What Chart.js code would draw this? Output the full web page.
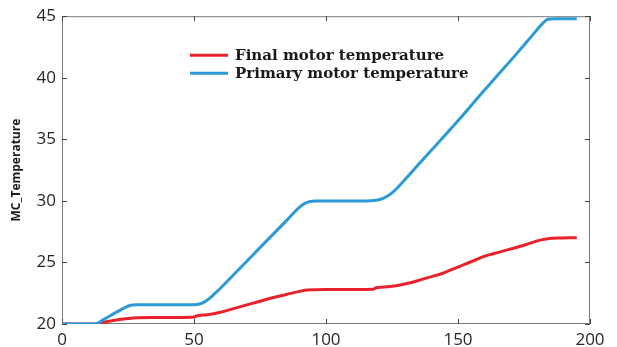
<!DOCTYPE html>
<html lang="en">
<head>
<meta charset="UTF-8" />
<title>MC Temperature</title>
<script src="https://cdn.jsdelivr.net/npm/chart.js"></script>
<style>
  html, body { margin: 0; padding: 0; background: #fff; }
  canvas { display: block; }
</style>
</head>
<body>
<canvas id="chart" width="617" height="347"></canvas>
<script>
  // sample times and temperatures of the two motors
  const finalTime = [0, 12.5, 15, 20, 25, 28, 35, 45, 50, 51, 52, 55, 60, 65, 70, 75, 80, 85, 90, 93, 100, 110, 118, 119, 122, 125, 128, 132, 136, 140, 144, 148, 152, 156, 160, 165, 170, 175, 180, 184, 188, 195];
  const finalTemp = [20, 20, 20.12, 20.3, 20.44, 20.5, 20.52, 20.53, 20.56, 20.66, 20.7, 20.75, 20.95, 21.25, 21.55, 21.85, 22.15, 22.4, 22.65, 22.76, 22.8, 22.8, 22.82, 22.95, 23.0, 23.07, 23.17, 23.35, 23.6, 23.85, 24.1, 24.45, 24.8, 25.15, 25.5, 25.8, 26.1, 26.4, 26.75, 26.92, 26.98, 27.0];

  const primaryTime = [0, 12.5, 16, 20, 24, 26, 28, 35, 45, 50, 52, 54, 56, 58, 60, 65, 70, 75, 80, 85, 90, 92, 94, 96, 105, 115, 119, 121, 123, 125, 127, 130, 135, 142, 150, 158, 165, 172, 178, 182, 184, 187, 195];
  const primaryTemp = [20, 20, 20.4, 20.88, 21.35, 21.52, 21.56, 21.56, 21.56, 21.57, 21.62, 21.8, 22.1, 22.5, 22.9, 24.0, 25.1, 26.2, 27.3, 28.4, 29.5, 29.8, 29.95, 30.0, 30.0, 30.0, 30.05, 30.15, 30.35, 30.65, 31.05, 31.75, 32.95, 34.6, 36.5, 38.5, 40.2, 41.9, 43.4, 44.4, 44.75, 44.8, 44.8];

  const seriesNames = ['Final motor temperature', 'Primary motor temperature'];
  const seriesColors = ['#e8212b', '#2b9ad6'];
  const xMin = 0, xMax = 200, xStep = 50;
  const yMin = 20, yMax = 45, yStep = 5;

  const toPoints = (xs, ys) => xs.map((x, i) => ({ x: x, y: ys[i] }));

  // grey box around the plot with short inward ticks on every side
  const frame = {
    id: 'frame',
    beforeDatasetsDraw(chart) {
      const { ctx, chartArea: a, scales } = chart;
      const len = 5;
      ctx.save();
      ctx.strokeStyle = '#7a7a7a';
      ctx.lineWidth = 1;
      ctx.strokeRect(a.left + 0.5, a.top + 0.5, a.right - a.left - 1, a.bottom - a.top - 1);
      ctx.strokeStyle = '#444';
      ctx.beginPath();
      scales.x.ticks.forEach(t => {
        const px = Math.round(scales.x.getPixelForValue(t.value)) + 0.5;
        ctx.moveTo(px, a.bottom); ctx.lineTo(px, a.bottom - len);
        ctx.moveTo(px, a.top); ctx.lineTo(px, a.top + len);
      });
      scales.y.ticks.forEach(t => {
        const py = Math.round(scales.y.getPixelForValue(t.value)) + 0.5;
        ctx.moveTo(a.left, py); ctx.lineTo(a.left + len, py);
        ctx.moveTo(a.right, py); ctx.lineTo(a.right - len, py);
      });
      ctx.stroke();
      ctx.restore();
    }
  };

  // legend drawn inside the plot area
  const innerLegend = {
    id: 'innerLegend',
    afterDraw(chart) {
      const { ctx, chartArea: a } = chart;
      const x0 = a.left + 128, y0 = a.top + 39, gap = 18;
      ctx.save();
      ctx.font = 'bold 15px "DejaVu Serif"';
      ctx.textBaseline = 'middle';
      chart.data.datasets.forEach((ds, i) => {
        const y = y0 + i * gap;
        ctx.strokeStyle = ds.borderColor;
        ctx.lineWidth = 3;
        ctx.beginPath();
        ctx.moveTo(x0, y); ctx.lineTo(x0 + 38, y);
        ctx.stroke();
        ctx.fillStyle = '#1a1a1a';
        ctx.fillText(ds.label, x0 + 45, y + 1);
      });
      ctx.restore();
    }
  };

  const tickFont = { family: '"Open Sans"', size: 17 };

  new Chart(document.getElementById('chart'), {
    type: 'line',
    data: {
      datasets: [
        {
          label: seriesNames[0],
          data: toPoints(finalTime, finalTemp),
          borderColor: seriesColors[0],
          borderWidth: 3,
          pointRadius: 0,
          cubicInterpolationMode: 'monotone',
          order: 1
        },
        {
          label: seriesNames[1],
          data: toPoints(primaryTime, primaryTemp),
          borderColor: seriesColors[1],
          borderWidth: 3,
          pointRadius: 0,
          cubicInterpolationMode: 'monotone',
          order: 0
        }
      ]
    },
    options: {
      responsive: false,
      animation: false,
      layout: { padding: { top: 16, right: 27, left: 0, bottom: 0 } },
      plugins: {
        legend: { display: false },
        tooltip: { enabled: false }
      },
      scales: {
        x: {
          type: 'linear',
          min: xMin, max: xMax,
          grid: { display: false, drawTicks: false },
          border: { display: false },
          ticks: { stepSize: xStep, font: tickFont, color: '#262626', padding: 6, maxRotation: 0 },
          afterFit(scale) { scale.height = 23; }
        },
        y: {
          min: yMin, max: yMax,
          grid: { display: false, drawTicks: false },
          border: { display: false },
          ticks: { stepSize: yStep, font: tickFont, color: '#262626', padding: 6 },
          title: {
            display: true,
            text: 'MC_Temperature',
            font: { family: '"Open Sans"', size: 12, weight: 'bold' },
            color: '#1a1a1a',
            padding: { top: 9, bottom: 0 }
          },
          afterFit(scale) { scale.width = 62; }
        }
      }
    },
    plugins: [frame, innerLegend]
  });
</script>
</body>
</html>
